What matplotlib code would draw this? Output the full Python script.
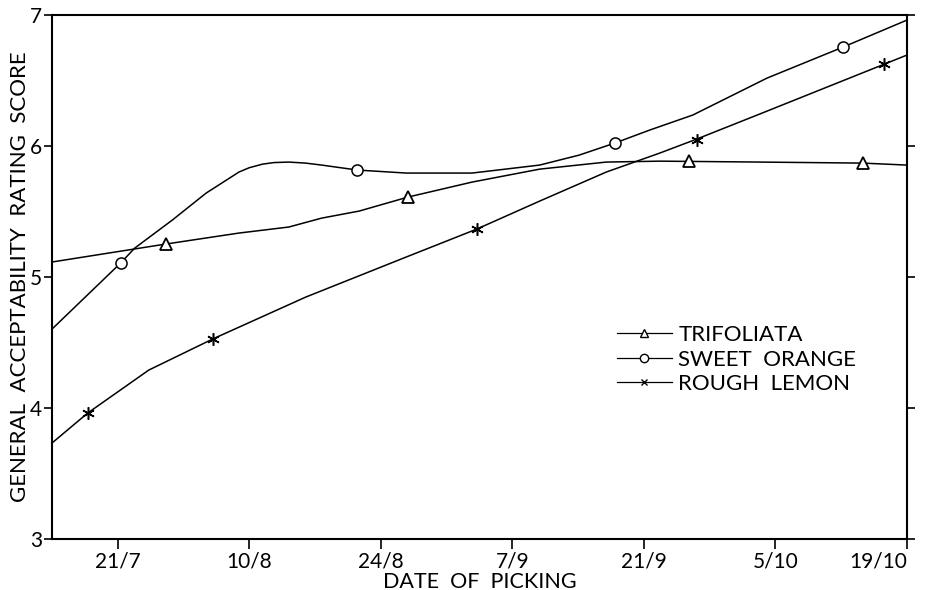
import matplotlib
matplotlib.use("Agg")
import matplotlib.pyplot as plt
from matplotlib.lines import Line2D

plt.rcParams['font.family'] = ['Lato', 'DejaVu Sans']

# x axis: days counted from 21/7, ticks every 14 days
tick_pos = [0, 14, 28, 42, 56, 70, 84]
tick_labels = ['21/7', '10/8', '24/8', '7/9', '21/9', '5/10', '19/10']

# observed scores
trif_x = [5.1, 30.9, 60.8, 79.3]
trif_y = [5.25, 5.61, 5.885, 5.87]
sweet_x = [0.3, 25.5, 52.9, 77.2]
sweet_y = [5.11, 5.82, 6.02, 6.76]
rough_x = [-3.2, 10.1, 38.2, 61.6, 81.6]
rough_y = [3.96, 4.53, 5.37, 6.05, 6.63]

# fitted curves
trif_cx = [-7, 5.1, 12.9, 18.2, 21.7, 25.7, 30.9, 37.7, 44.9, 52.0, 57.7, 68.3, 79.3, 84]
trif_cy = [5.115, 5.252, 5.336, 5.382, 5.45, 5.504, 5.611, 5.725, 5.824, 5.878, 5.885, 5.878, 5.87, 5.855]
sweet_cx = [-7, 0.3, 1.8, 5.8, 9.4, 12.9, 14.0, 15.4, 16.6, 18.2, 20.0, 21.7, 25.5, 30.7,
            37.7, 44.9, 49.1, 52.9, 56.6, 61.2, 69.1, 77.2, 84]
sweet_cy = [4.603, 5.107, 5.221, 5.435, 5.641, 5.802, 5.835, 5.862, 5.874, 5.878, 5.870, 5.855, 5.817, 5.794,
            5.794, 5.855, 5.931, 6.023, 6.122, 6.237, 6.519, 6.756, 6.962]
rough_cx = [-7, -3.2, 3.3, 10.1, 20.0, 30.7, 38.2, 44.9, 52.0, 57.7, 61.6, 68.3, 81.6, 84]
rough_cy = [3.733, 3.962, 4.29, 4.527, 4.847, 5.153, 5.366, 5.58, 5.802, 5.947, 6.053, 6.244, 6.626, 6.695]

fig = plt.figure(figsize=(9.34, 5.90), dpi=100)
ax = fig.add_axes([0.0557, 0.0864, 0.9154, 0.888])

lw = 1.1
ax.plot(trif_cx, trif_cy, color='black', lw=lw)
ax.plot(sweet_cx, sweet_cy, color='black', lw=lw)
ax.plot(rough_cx, rough_cy, color='black', lw=lw)

ax.plot(trif_x, trif_y, linestyle='none', marker='^', ms=9, mfc='white', mec='black', mew=1.3)
ax.plot(sweet_x, sweet_y, linestyle='none', marker='o', ms=8, mfc='white', mec='black', mew=1.1)
ax.plot(rough_x, rough_y, linestyle='none', marker=(6, 2, 0), ms=9, color='black', mew=1.1)

ax.set_xlim(-7, 84)
ax.set_ylim(3, 7)
ax.set_xticks(tick_pos)
ax.set_xticklabels(tick_labels)
ax.set_yticks([3, 4, 5, 6, 7])
ax.tick_params(axis='both', direction='out', labelsize=15, width=1.2, color='black')
ax.tick_params(axis='x', length=7, pad=2)
ax.tick_params(axis='y', length=6, pad=1)
ax.tick_params(axis='y', which='both', right=True, labelright=False)
# last date label sits flush with the right edge of the figure
ax.get_xticklabels()[-1].set_horizontalalignment('right')
ax.get_xticklabels()[-1].set_x(84.8)
for side in ['left', 'right', 'top', 'bottom']:
    ax.spines[side].set_linewidth(1.5)

ax.set_xlabel('DATE  OF  PICKING', fontsize=15.5, labelpad=0)
ax.set_ylabel('GENERAL  ACCEPTABILITY  RATING  SCORE', fontsize=16, labelpad=0)

handles = [
    Line2D([], [], color='black', lw=0.9, marker='^', ms=6, mfc='white', mec='black'),
    Line2D([], [], color='black', lw=0.9, marker='o', ms=6, mfc='white', mec='black'),
    Line2D([], [], color='black', lw=0.9, marker='x', ms=5, mec='black'),
]
ax.legend(handles, ['TRIFOLIATA', 'SWEET  ORANGE', 'ROUGH  LEMON'],
          loc='upper left', bbox_to_anchor=(0.661, 0.408), frameon=False,
          fontsize=16, handlelength=2.45, handletextpad=0.3, labelspacing=0.2,
          borderpad=0, borderaxespad=0)

fig.savefig('out.png', dpi=100)
